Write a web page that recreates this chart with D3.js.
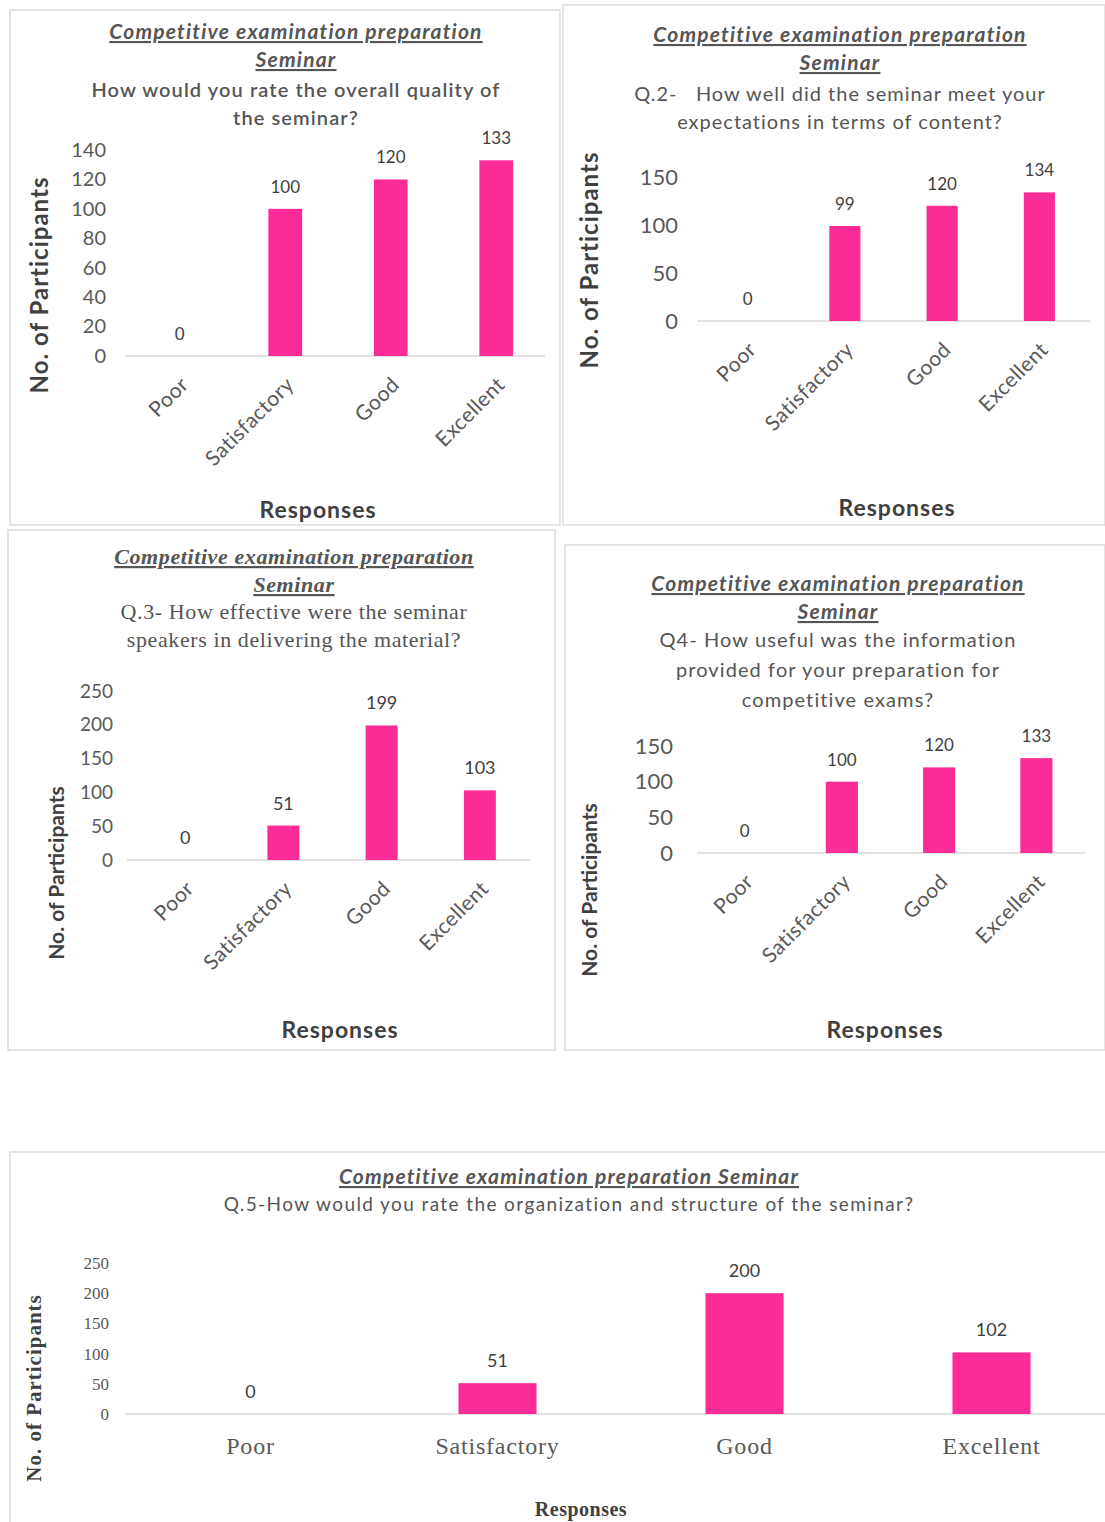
<!DOCTYPE html>
<html>
<head>
<meta charset="utf-8">
<script src="https://cdn.jsdelivr.net/npm/d3@7"></script>
<style>
  body { margin: 0; background: #fff; }
  svg { display: block; }
</style>
</head>
<body>
<svg id="chart" width="1105" height="1522"></svg>
<script>
// data
const categories = ["Poor", "Satisfactory", "Good", "Excellent"]
const q1Values = [0, 100, 120, 133]
const q2Values = [0, 99, 120, 134]
const q3Values = [0, 51, 199, 103]
const q4Values = [0, 100, 120, 133]
const q5Values = [0, 51, 200, 102]
const q1Ticks = [0, 20, 40, 60, 80, 100, 120, 140]
const q2Ticks = [0, 50, 100, 150]
const q3Ticks = [0, 50, 100, 150, 200, 250]
const q4Ticks = [0, 50, 100, 150]
const q5Ticks = [0, 50, 100, 150, 200, 250]
const seminarTitle = ["Competitive examination preparation", "Seminar"]
const q1Question = ["How would you rate the overall quality of", "the seminar?"]
const q2Question = ["Q.2-   How well did the seminar meet your", "expectations in terms of content?"]
const q3Question = ["Q.3- How effective were the seminar", "speakers in delivering the material?"]
const q4Question = ["Q4- How useful was the information", "provided for your preparation for", "competitive exams?"]
const q5Title = ["Competitive examination preparation Seminar"]
const q5Question = ["Q.5-How would you rate the organization and structure of the seminar?"]

const pink = "#fb2c97"
const sans = "Lato, 'Open Sans', sans-serif"
const serif = "'Liberation Serif', 'DejaVu Serif', serif"

const svg = d3.select("#chart")

function drawPanel(p) {
  const g = svg.append("g")

  // panel frame
  g.append("rect")
    .attr("x", p.box[0]).attr("y", p.box[1])
    .attr("width", p.box[2] - p.box[0]).attr("height", p.box[3] - p.box[1])
    .attr("fill", "none").attr("stroke", "#dcdcdc").attr("stroke-width", 1.5)

  // title (italic, underlined)
  p.title.forEach((t, i) => {
    g.append("text")
      .attr("x", p.cx).attr("y", p.titleY + i * p.lineGap)
      .attr("text-anchor", "middle")
      .attr("font-family", p.titleFont || sans)
      .attr("font-size", p.titleSize)
      .attr("letter-spacing", p.titleLS || 0)
      .attr("font-style", "italic").attr("font-weight", "bold")
      .attr("text-decoration", "underline")
      .attr("fill", "#555")
      .text(t)
  })

  p.question.forEach((t, i) => {
    g.append("text")
      .attr("x", p.cx).attr("y", p.qY + i * p.qGap)
      .attr("text-anchor", "middle")
      .attr("font-family", p.qFont || sans)
      .attr("font-size", p.qSize)
      .attr("letter-spacing", p.qLS || 0)
      .attr("font-weight", p.qWeight || "normal")
      .attr("fill", "#555")
      .style("white-space", "pre")
      .text(t)
  })

  const x = d3.scaleBand()
    .domain(categories)
    .range(p.xRange)
    .paddingInner(p.pad)
    .paddingOuter(p.pad / 2)

  const y = d3.scaleLinear()
    .domain(p.yDomain)
    .range(p.yRange)

  // y axis labels only
  const ya = g.append("g")
    .attr("transform", `translate(${p.yLabelX}, 0)`)
    .call(d3.axisLeft(y).tickValues(p.ticks).tickSize(0).tickPadding(0))
  ya.select(".domain").remove()
  ya.selectAll("text")
    .attr("font-family", p.tickFont || sans)
    .attr("font-size", p.tickSize)
    .attr("fill", "#595959")

  // baseline
  g.append("line")
    .attr("x1", p.baseX[0]).attr("x2", p.baseX[1])
    .attr("y1", y(0)).attr("y2", y(0))
    .attr("stroke", "#d9d9d9").attr("stroke-width", 1.5)

  g.append("g")
    .selectAll("rect")
    .data(p.values)
    .join("rect")
    .attr("x", (d, i) => x(categories[i]))
    .attr("y", d => y(d))
    .attr("width", x.bandwidth())
    .attr("height", d => y(0) - y(d))
    .attr("fill", pink)

  // value labels
  g.append("g")
    .selectAll("text")
    .data(p.values)
    .join("text")
    .attr("x", (d, i) => x(categories[i]) + x.bandwidth() / 2)
    .attr("y", d => y(d) - p.valueGap)
    .attr("text-anchor", "middle")
    .attr("font-family", p.valueFont || sans)
    .attr("font-size", p.valueSize)
    .attr("fill", "#404040")
    .text(d => d)

  // category labels
  const xl = g.append("g")
    .selectAll("text")
    .data(categories)
    .join("text")
    .attr("font-family", p.catFont || sans)
    .attr("font-size", p.catSize)
    .attr("letter-spacing", p.catLS || 0)
    .attr("fill", "#595959")
    .text(d => d)
  if (p.rotate) {
    xl.attr("text-anchor", "end")
      .attr("transform", d => `translate(${x(d) + x.bandwidth() / 2 + 10}, ${y(0) + p.catOffset}) rotate(-45)`)
  } else {
    xl.attr("text-anchor", "middle")
      .attr("x", d => x(d) + x.bandwidth() / 2)
      .attr("y", y(0) + p.catOffset)
  }

  // axis titles
  g.append("text")
    .attr("transform", `translate(${p.yTitle[0]}, ${p.yTitle[1]}) rotate(-90)`)
    .attr("text-anchor", "middle")
    .attr("font-family", p.yTitleFont || sans)
    .attr("font-size", p.yTitleSize)
    .attr("letter-spacing", p.yTitleLS || 0)
    .attr("font-weight", "bold")
    .attr("fill", "#404040")
    .text("No. of Participants")

  g.append("text")
    .attr("x", p.xTitle[0]).attr("y", p.xTitle[1])
    .attr("text-anchor", "middle")
    .attr("font-family", p.xTitleFont || sans)
    .attr("font-size", p.xTitleSize)
    .attr("letter-spacing", p.xTitleLS || 0)
    .attr("font-weight", "bold")
    .attr("fill", "#404040")
    .text("Responses")
}

drawPanel({
  box: [10, 10, 560, 525], cx: 296,
  title: seminarTitle, titleY: 39, lineGap: 28, titleSize: 21, titleLS: 1.2,
  question: q1Question, qY: 97, qGap: 28, qSize: 20, qLS: 1.1, qWeight: 600,
  values: q1Values, ticks: q1Ticks, yDomain: [0, 140], yRange: [356, 150],
  xRange: [127, 549], pad: 0.68, baseX: [125, 545],
  yLabelX: 106, tickSize: 20, valueSize: 17, valueGap: 16,
  rotate: true, catSize: 21, catLS: 0.5, catOffset: 30,
  yTitle: [48, 285], yTitleSize: 24, yTitleLS: 1, xTitle: [318, 518], xTitleSize: 23, xTitleLS: 1
})

drawPanel({
  box: [563, 5, 1105, 525], cx: 840,
  title: seminarTitle, titleY: 42, lineGap: 28, titleSize: 21, titleLS: 1.2,
  question: q2Question, qY: 101, qGap: 28, qSize: 20, qLS: 1.0,
  values: q2Values, ticks: q2Ticks, yDomain: [0, 150], yRange: [321, 177],
  xRange: [699, 1088], pad: 0.68, baseX: [697, 1090],
  yLabelX: 678, tickSize: 22, valueSize: 17, valueGap: 16,
  rotate: true, catSize: 21, catLS: 0.5, catOffset: 30,
  yTitle: [598, 260], yTitleSize: 24, yTitleLS: 1, xTitle: [897, 516], xTitleSize: 23, xTitleLS: 1
})

drawPanel({
  box: [8, 530, 555, 1050], cx: 294,
  title: seminarTitle, titleY: 564, lineGap: 28, titleSize: 22, titleLS: 0.6, titleFont: serif,
  question: q3Question, qY: 619, qGap: 28, qSize: 22, qLS: 0.6, qFont: serif,
  values: q3Values, ticks: q3Ticks, yDomain: [0, 250], yRange: [860, 691],
  xRange: [136, 529], pad: 0.675, baseX: [127, 530],
  yLabelX: 113, tickSize: 19, valueSize: 18, valueGap: 16,
  rotate: true, catSize: 21, catLS: 0.5, catOffset: 30,
  yTitle: [64, 873], yTitleSize: 21, xTitle: [340, 1038], xTitleSize: 23, xTitleLS: 1
})

drawPanel({
  box: [565, 545, 1105, 1050], cx: 838,
  title: seminarTitle, titleY: 591, lineGap: 28, titleSize: 21, titleLS: 1.2,
  question: q4Question, qY: 647, qGap: 30, qSize: 20, qLS: 1.1,
  values: q4Values, ticks: q4Ticks, yDomain: [0, 150], yRange: [853, 746],
  xRange: [696, 1085], pad: 0.67, baseX: [697, 1085],
  yLabelX: 673, tickSize: 22, valueSize: 17, valueGap: 16,
  rotate: true, catSize: 21, catLS: 0.5, catOffset: 30,
  yTitle: [597, 890], yTitleSize: 21, xTitle: [885, 1038], xTitleSize: 23, xTitleLS: 1
})

drawPanel({
  box: [10, 1152, 1115, 1530], cx: 569,
  title: q5Title, titleY: 1184, lineGap: 28, titleSize: 21, titleLS: 1.2,
  question: q5Question, qY: 1211, qGap: 28, qSize: 19, qLS: 1.4,
  values: q5Values, ticks: q5Ticks, yDomain: [0, 250], yRange: [1414, 1263],
  xRange: [127, 1115], pad: 0.684, baseX: [125, 1105],
  yLabelX: 109, tickSize: 17, tickFont: serif, valueSize: 18, valueGap: 16,
  rotate: false, catSize: 24, catLS: 0.8, catFont: serif, catOffset: 40,
  yTitle: [41, 1388], yTitleSize: 21, yTitleLS: 1, yTitleFont: serif,
  xTitle: [581, 1516], xTitleSize: 20, xTitleLS: 0.5, xTitleFont: serif
})
</script>
</body>
</html>
